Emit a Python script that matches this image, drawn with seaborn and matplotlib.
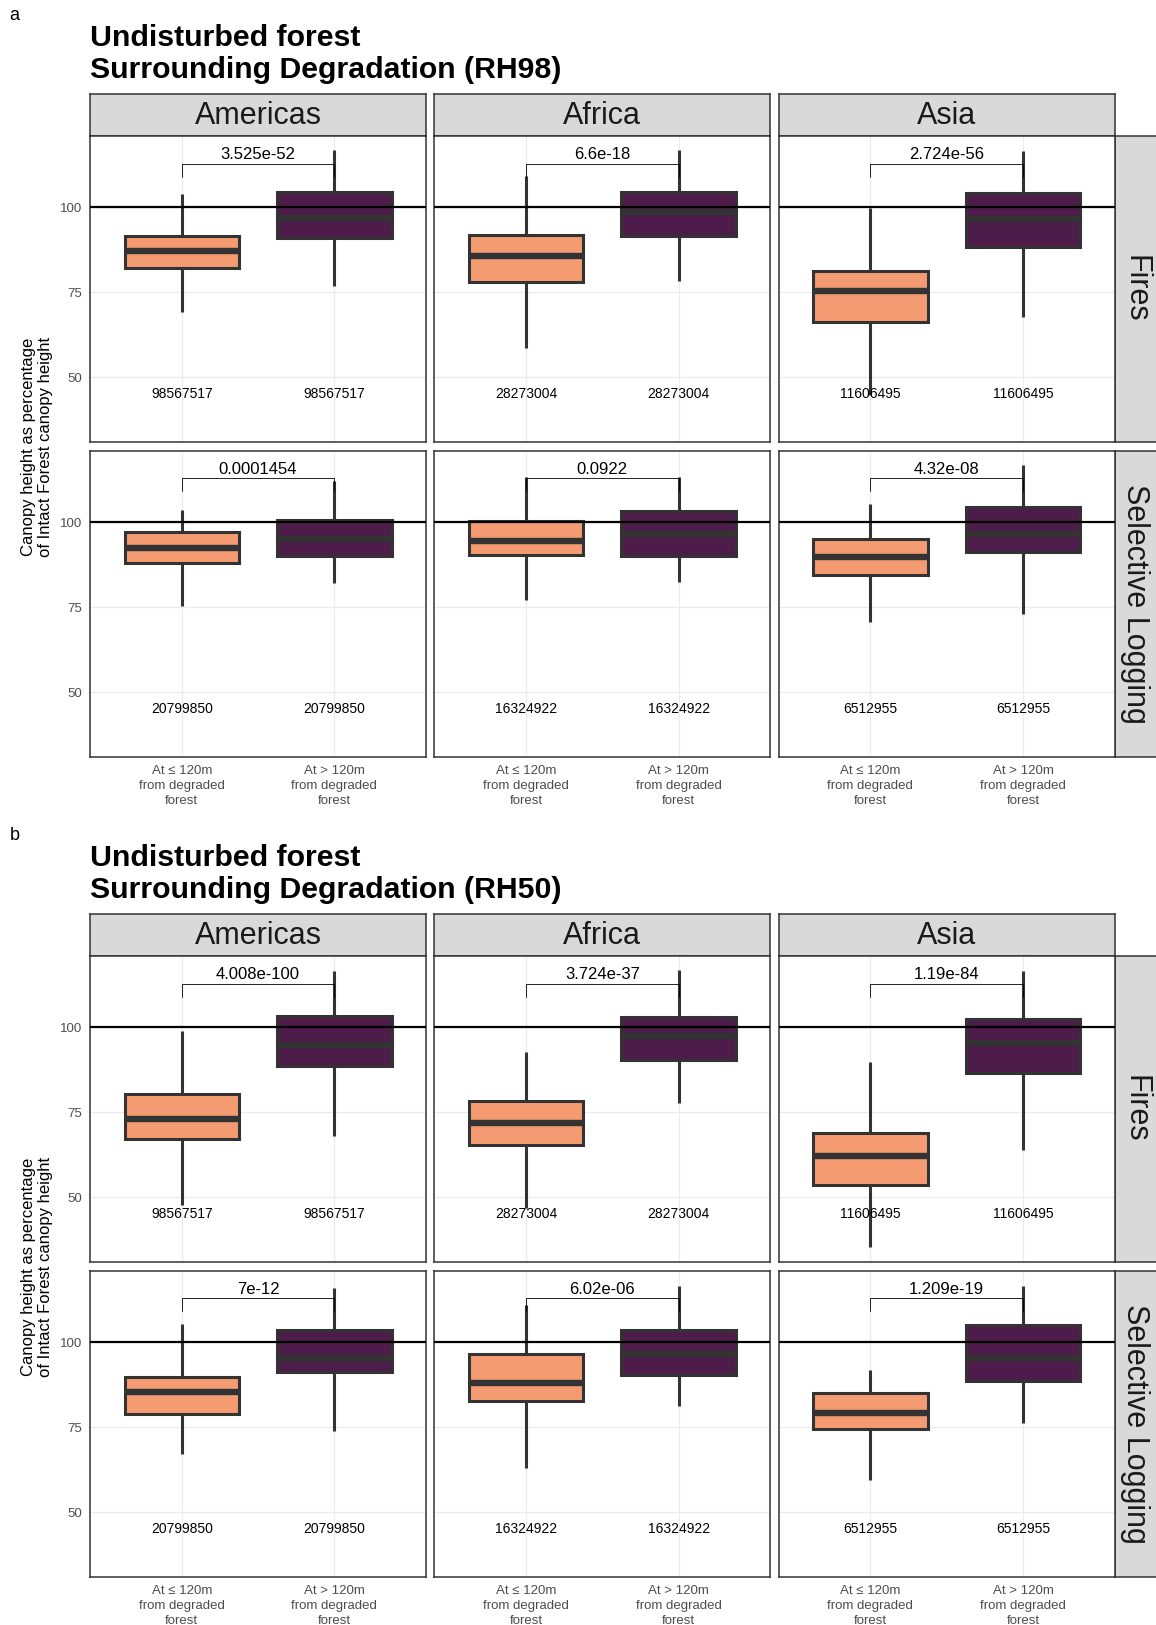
import matplotlib
matplotlib.use("Agg")
import matplotlib.pyplot as plt
import pandas as pd
import seaborn as sns

# facets and categories
regions = ["Americas", "Africa", "Asia"]
disturbances = ["Fires", "Selective Logging"]
distance_classes = ["At \u2264 120m\nfrom degraded\nforest", "At > 120m\nfrom degraded\nforest"]
parts = ["RH98", "RH50"]

# five-number summaries: [whisker low, q1, median, q3, whisker high]
# one row per region (Americas, Africa, Asia)
rh98_fires_near = [[69.1, 82.1, 87.0, 91.5, 103.8],
                   [58.5, 78.1, 85.6, 91.8, 109.2],
                   [44.7, 66.3, 75.4, 81.3, 99.8]]
rh98_fires_far = [[76.7, 91.1, 97.0, 104.5, 116.9],
                  [78.4, 91.6, 98.7, 104.4, 116.8],
                  [67.6, 88.4, 96.6, 104.1, 116.7]]
rh98_logging_near = [[75.3, 87.9, 92.5, 97.1, 103.5],
                     [77.2, 90.3, 94.5, 100.4, 113.2],
                     [70.7, 84.4, 89.6, 94.9, 105.2]]
rh98_logging_far = [[82.2, 89.9, 94.9, 100.5, 112.1],
                    [82.5, 89.9, 96.6, 103.2, 113.2],
                    [73.1, 91.2, 96.5, 104.5, 116.8]]
rh50_fires_near = [[47.8, 67.0, 73.1, 80.3, 98.8],
                   [46.9, 65.3, 71.8, 78.4, 92.7],
                   [35.4, 53.5, 62.1, 69.0, 89.8]]
rh50_fires_far = [[67.9, 88.6, 94.8, 103.2, 116.5],
                  [77.6, 90.5, 97.5, 103.0, 116.8],
                  [64.0, 86.6, 95.4, 102.5, 116.5]]
rh50_logging_near = [[67.2, 78.8, 85.2, 89.8, 105.3],
                     [62.9, 82.6, 88.0, 96.4, 110.9],
                     [59.5, 74.3, 79.2, 85.0, 91.9]]
rh50_logging_far = [[73.9, 91.2, 95.2, 103.6, 116.0],
                    [81.3, 90.4, 96.5, 103.5, 116.5],
                    [76.1, 88.5, 95.4, 104.9, 116.6]]

# sample sizes per region
counts_fires = [98567517, 28273004, 11606495]
counts_logging = [20799850, 16324922, 6512955]

# p-values printed above the brackets
pvals_rh98_fires = ["3.525e-52", "6.6e-18", "2.724e-56"]
pvals_rh98_logging = ["0.0001454", "0.0922", "4.32e-08"]
pvals_rh50_fires = ["4.008e-100", "3.724e-37", "1.19e-84"]
pvals_rh50_logging = ["7e-12", "6.02e-06", "1.209e-19"]

summaries = {
    ("RH98", "Fires"): (rh98_fires_near, rh98_fires_far),
    ("RH98", "Selective Logging"): (rh98_logging_near, rh98_logging_far),
    ("RH50", "Fires"): (rh50_fires_near, rh50_fires_far),
    ("RH50", "Selective Logging"): (rh50_logging_near, rh50_logging_far),
}
pvals = {
    ("RH98", "Fires"): pvals_rh98_fires,
    ("RH98", "Selective Logging"): pvals_rh98_logging,
    ("RH50", "Fires"): pvals_rh50_fires,
    ("RH50", "Selective Logging"): pvals_rh50_logging,
}
counts = {"Fires": counts_fires, "Selective Logging": counts_logging}

rows = []
for (part, dist), (near, far) in summaries.items():
    for i, region in enumerate(regions):
        for cls, table in zip(distance_classes, (near, far)):
            for v in table[i]:
                rows.append({"part": part, "disturbance": dist, "region": region,
                             "distance": cls, "value": v})
df = pd.DataFrame(rows)

sns.set_style("white")
plt.rcParams["font.family"] = ["Liberation Sans", "DejaVu Sans"]
plt.rcParams["text.color"] = "black"

ORANGE = "#F49B71"
PURPLE = "#4E1C4A"
EDGE = "#333333"

W, H = 1156, 1625
fig = plt.figure(figsize=(W / 100, H / 100), dpi=100)


def rect(x0, y0, x1, y1):
    return [x0 / W, 1 - y1 / H, (x1 - x0) / W, (y1 - y0) / H]


panel_x = [(90.2, 426.0), (434.4, 770.3), (778.6, 1114.6)]
strip_y = (94, 136)
row_y = [(136, 442), (450.7, 757)]
offsets = [0, 820]
letters = ["a", "b"]

for p, part in enumerate(parts):
    off = offsets[p]
    fig.text(14.5 / W, 1 - (16 + off) / H, letters[p], ha="center", va="center", fontsize=13)
    fig.text(90 / W, 1 - (45.7 + off) / H, "Undisturbed forest", fontsize=21.8,
             fontweight="bold", va="baseline", ha="left")
    fig.text(90 / W, 1 - (78.3 + off) / H, "Surrounding Degradation (%s)" % part, fontsize=21.8,
             fontweight="bold", va="baseline", ha="left")
    fig.text(37 / W, 1 - (446.5 + off) / H,
             "Canopy height as percentage\nof Intact Forest canopy height",
             rotation=90, ha="center", va="center", multialignment="center", fontsize=12,
             linespacing=1.1)

    # top strips
    for c, region in enumerate(regions):
        x0, x1 = panel_x[c]
        sax = fig.add_axes(rect(x0, strip_y[0] + off, x1, strip_y[1] + off))
        sax.set_facecolor("#D9D9D9")
        sax.set_xticks([])
        sax.set_yticks([])
        for s in sax.spines.values():
            s.set_color(EDGE)
            s.set_linewidth(1.1)
        sax.text(0.5, 0.47, region, ha="center", va="center", fontsize=22,
                 color="#1A1A1A", transform=sax.transAxes)

    for r, dist in enumerate(disturbances):
        y0, y1 = row_y[r]
        # right strip
        sax = fig.add_axes(rect(1114.6, y0 + off, 1160, y1 + off))
        sax.set_facecolor("#D9D9D9")
        sax.set_xticks([])
        sax.set_yticks([])
        for s in sax.spines.values():
            s.set_color(EDGE)
            s.set_linewidth(1.1)
        sax.text(0.45, 0.5, dist, ha="center", va="center", rotation=270, fontsize=22,
                 color="#1A1A1A", transform=sax.transAxes)

        for c, region in enumerate(regions):
            x0, x1 = panel_x[c]
            ax = fig.add_axes(rect(x0, y0 + off, x1, y1 + off))
            sub = df[(df.part == part) & (df.disturbance == dist) & (df.region == region)]
            sns.boxplot(data=sub, x="distance", y="value", hue="distance",
                        order=distance_classes, hue_order=distance_classes,
                        palette=[ORANGE, PURPLE], saturation=1, whis=(0, 100), width=0.75,
                        linewidth=2.2, linecolor=EDGE, showcaps=False,
                        medianprops={"linewidth": 4.6}, legend=False, ax=ax)
            ax.set_xlim(-0.6, 1.6)
            ax.set_ylim(30.9, 121.0)
            ax.set_xlabel("")
            ax.set_ylabel("")
            ax.set_axisbelow(True)
            ax.set_yticks([50, 75, 100])
            ax.grid(True, color="#EBEBEB", linewidth=0.9)
            ax.axhline(100, color="black", linewidth=1.6, zorder=5)

            # significance bracket
            ax.plot([0, 0, 1, 1], [109.0, 112.9, 112.9, 109.0], color="black",
                    linewidth=0.6, zorder=6)
            ax.text(0.5, 114.2, pvals[(part, dist)][c], ha="center", va="baseline",
                    fontsize=12, color="black", zorder=7)
            for k in range(2):
                ax.text(k, 45, str(counts[dist][c]), ha="center", va="center",
                        fontsize=10, color="black", zorder=7)

            for s in ax.spines.values():
                s.set_color(EDGE)
                s.set_linewidth(1.1)
                s.set_visible(True)

            ax.tick_params(axis="both", colors=EDGE, length=3, width=0.9,
                           labelcolor="#4D4D4D", pad=3)
            if c == 0:
                ax.set_yticklabels(["50", "75", "100"], fontsize=9.5)
            else:
                ax.tick_params(axis="y", length=0, labelleft=False)
            if r == 1:
                ax.set_xticks([0, 1])
                ax.set_xticklabels(distance_classes, fontsize=9.5, linespacing=1.3)
            else:
                ax.tick_params(axis="x", length=0, labelbottom=False)

fig.savefig("out.png", dpi=100)
